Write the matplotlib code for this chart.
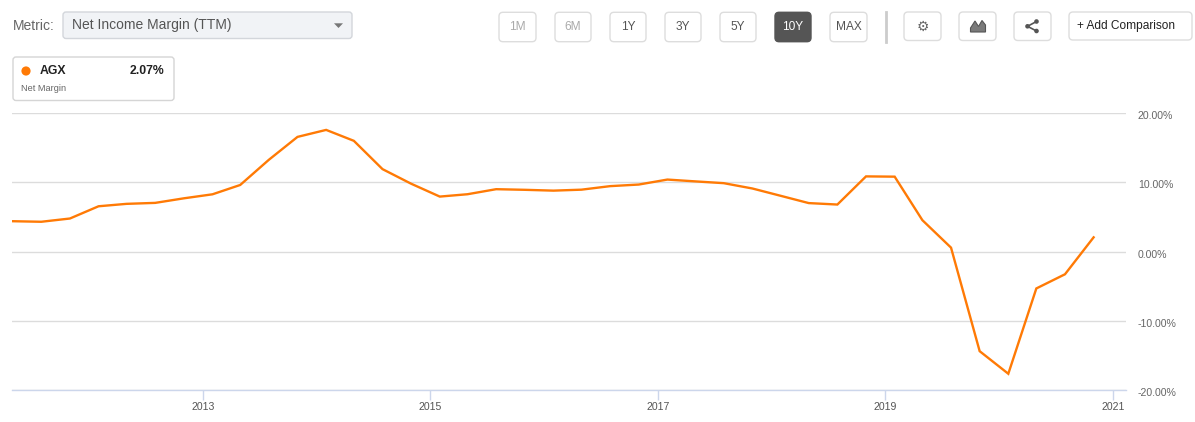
import matplotlib
matplotlib.use('Agg')
import matplotlib.pyplot as plt
from matplotlib.patches import FancyBboxPatch, Circle, Polygon
import matplotlib.transforms as mtransforms
import datetime as dt

plt.rcParams['font.family'] = ['Liberation Sans', 'DejaVu Sans']

# ---- data ----
dates = ['2011-04-30', '2011-07-31', '2011-10-31', '2012-01-31', '2012-04-30', '2012-07-31',
         '2012-10-31', '2013-01-31', '2013-04-30', '2013-07-31', '2013-10-31', '2014-01-31',
         '2014-04-30', '2014-07-31', '2014-10-31', '2015-01-31', '2015-04-30', '2015-07-31',
         '2015-10-31', '2016-01-31', '2016-04-30', '2016-07-31', '2016-10-31', '2017-01-31',
         '2017-04-30', '2017-07-31', '2017-10-31', '2018-01-31', '2018-04-30', '2018-07-31',
         '2018-10-31', '2019-01-31', '2019-04-30', '2019-07-31', '2019-10-31', '2020-01-31',
         '2020-04-30', '2020-07-31', '2020-10-31']
net_margin = [4.40, 4.32, 4.79, 6.56, 6.91, 7.05,
              7.71, 8.29, 9.64, 13.28, 16.59, 17.60,
              16.02, 11.93, 9.82, 7.96, 8.30, 9.03,
              8.94, 8.82, 8.96, 9.47, 9.70, 10.42,
              10.16, 9.90, 9.13, 8.06, 7.02, 6.81,
              10.88, 10.84, 4.55, 0.58, -14.39, -17.65,
              -5.32, -3.27, 2.07]
ticker = 'AGX'
last_value = '2.07%'
y_ticks = [-20, -10, 0, 10, 20]
x_tick_years = [2013, 2015, 2017, 2019, 2021]
range_buttons = ['1M', '6M', '1Y', '3Y', '5Y', '10Y', 'MAX']

LINE = '#ff7a05'
W, H = 1195, 422
fig = plt.figure(figsize=(W / 100, H / 100), dpi=100)
fig.patch.set_facecolor('white')

# ---- UI overlay (pixel coordinates) ----
ui = fig.add_axes([0, 0, 1, 1])
ui.set_xlim(0, W)
ui.set_ylim(0, H)
ui.axis('off')


def box(x0, y0, x1, y1, fc='white', ec='#d9d9d9', r=4, lw=1.0):
    ui.add_patch(FancyBboxPatch((x0, H - y1), x1 - x0, y1 - y0,
                                boxstyle=f'round,pad=0,rounding_size={r}',
                                fc=fc, ec=ec, lw=lw))


def txt(x, y, s, **kw):
    kw.setdefault('va', 'center')
    ui.text(x, H - y, s, **kw)


txt(13, 25.5, 'Metric:', fontsize=10, color='#666666', ha='left')
box(63, 12, 352, 38.5, fc='#f1f3f6', ec='#d3d6db', r=3)
txt(72, 25.5, 'Net Income Margin (TTM)', fontsize=10, color='#555555', ha='left')
ui.add_patch(Polygon([(334, H - 23.3), (343, H - 23.3), (338.5, H - 28)], closed=True,
                     fc='#777777', ec='none'))

btn_x = [(499, 536), (555, 591), (610, 646), (665, 701), (720, 756), (775, 811), (830, 867)]
for lab, (x0, x1) in zip(range_buttons, btn_x):
    if lab == '10Y':
        box(x0, 12.3, x1, 41.7, fc='#555555', ec='#555555', r=4)
        col = 'white'
    else:
        box(x0, 12.3, x1, 41.7, fc='white', ec='#dddddd', r=4)
        col = '#aaaaaa' if lab in ('1M', '6M') else '#555555'
    txt((x0 + x1) / 2, 27, lab, fontsize=8.6, color=col, ha='center')

ui.plot([886, 886], [H - 12, H - 42], color='#cccccc', lw=2)

for x0, x1 in [(904, 941), (959, 996), (1014, 1051)]:
    box(x0, 12, x1, 40.5, fc='white', ec='#dddddd', r=4)

# gear icon
txt(922.5, 26.5, '\u2699', fontsize=10, color='#666666', ha='center', family='DejaVu Sans')
# area-chart icon
ui.add_patch(Polygon([(970.5, H - 32), (970.5, H - 28), (975, H - 21), (978.5, H - 26.5),
                      (982, H - 20.5), (985.5, H - 25), (985.5, H - 32)], closed=True,
                     fc='#7a7a7a', ec='#555555', lw=0.8))
# share icon
pts = [(1036.5, H - 21.5), (1027.5, H - 26.3), (1036.5, H - 31)]
ui.plot([pts[0][0], pts[1][0], pts[2][0]], [pts[0][1], pts[1][1], pts[2][1]],
        color='#555555', lw=1.2)
for p in pts:
    ui.add_patch(Circle(p, 2.3, fc='#555555', ec='none'))

box(1069, 12, 1192, 40, fc='white', ec='#dddddd', r=4)
txt(1077, 26, '+ Add Comparison', fontsize=8.6, color='#222222', ha='left')

# legend card
box(13, 57, 174, 100.5, fc='white', ec='#d5d5d5', r=3)
ui.add_patch(Circle((26, H - 71), 4.6, fc=LINE, ec='none'))
txt(40, 71, ticker, fontsize=8.8, color='#222222', ha='left', fontweight='bold')
txt(164.5, 71, last_value, fontsize=8.8, color='#222222', ha='right', fontweight='bold')
txt(21.5, 88.5, 'Net Margin', fontsize=6.6, color='#666666', ha='left')

# ---- main chart ----
top_px, bot_px, left_px, right_px = 113.3, 390.0, 12, 1126
ax = fig.add_axes([left_px / W, 1 - bot_px / H, (right_px - left_px) / W, (bot_px - top_px) / H])
ax.patch.set_alpha(0)

xd = [dt.datetime.strptime(d, '%Y-%m-%d') for d in dates]
ax.plot(xd, net_margin, color=LINE, lw=1.7, solid_joinstyle='miter', zorder=3)

ax.set_ylim(-20, 20)
ax.set_xlim(dt.datetime(2011, 4, 28), dt.datetime(2021, 2, 12))
ax.set_yticks(y_ticks)
ax.set_yticklabels([f'{v:.2f}%' for v in y_ticks])
ax.yaxis.tick_right()
ax.grid(axis='y', color='#dcdcdc', lw=1.0, zorder=0)
ax.set_axisbelow(True)
for s in ('top', 'left', 'right'):
    ax.spines[s].set_visible(False)
ax.spines['bottom'].set_color('#ccd6eb')
ax.spines['bottom'].set_linewidth(1.0)
ax.spines['bottom'].set_zorder(2)
ax.tick_params(axis='y', length=0, pad=8.5, labelsize=7.6, labelcolor='#666666')
shift = mtransforms.ScaledTranslation(0, -2 / 100, fig.dpi_scale_trans)
for lbl in ax.get_yticklabels():
    lbl.set_transform(lbl.get_transform() + shift)

ax.set_xticks([dt.datetime(y, 1, 1) for y in x_tick_years])
ax.set_xticklabels([str(y) for y in x_tick_years])
ax.tick_params(axis='x', length=7.2, width=1.0, color='#ccd6eb', pad=1.5,
               labelsize=7.6, labelcolor='#555555')

fig.savefig('out.png', dpi=100, facecolor='white')
